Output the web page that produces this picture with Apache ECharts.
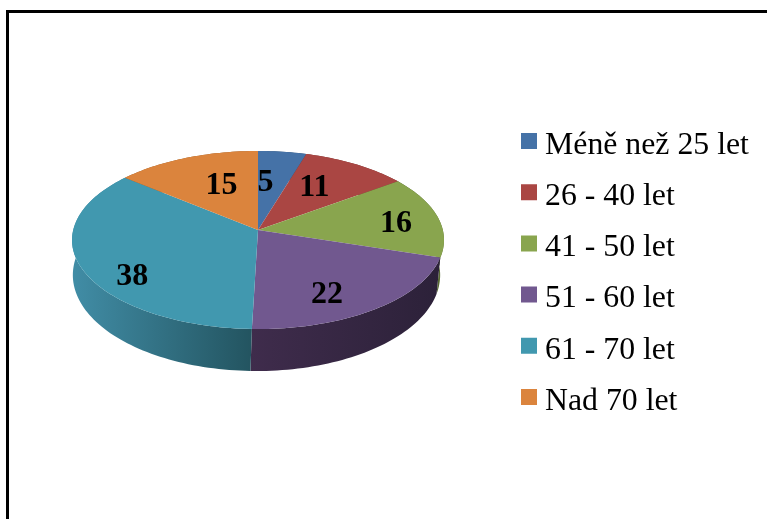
<!DOCTYPE html>
<html>
<head>
<meta charset="utf-8">
<style>
  html, body { margin: 0; padding: 0; background: #fff; overflow: hidden; }
  #chart { width: 767px; height: 519px; }
</style>
<script src="https://cdn.jsdelivr.net/npm/echarts@6/dist/echarts.min.js"></script>
</head>
<body>
<div id="chart"></div>
<script>
const categories = ['Méně než 25 let', '26 - 40 let', '41 - 50 let', '51 - 60 let', '61 - 70 let', 'Nad 70 let']
const values = [5, 11, 16, 22, 38, 15]

const colors = ['#4572a7', '#aa4643', '#89a54e', '#71588f', '#4198af', '#db843d']
// side wall shading, left to right
const wallColors = [
  ['#2e4c70', '#2e4c70'],
  ['#712f2d', '#712f2d'],
  ['#3f4c24', '#5b6e34'],
  ['#3f2c4c', '#2c2139'],
  ['#418da6', '#235460'],
  ['#925827', '#925827']
]
// nudge of each number from its slice's anchor point, pixels
const labelNudge = [[-10, 9], [-14, 5], [12, 4], [-11, 11], [-4, 20], [15, 8]]

const perspective = 0.1125
const topDisk = { x: 258, y: 230, rx: 184.8, ry: 87.9 }
const baseDisk = { x: 256.5, y: 264.2, rx: 182.5, ry: 94.8 }
const total = values.reduce((a, b) => a + b, 0)

// project a point of the pie circle, angle in degrees clockwise from 12 o'clock
function project(disk, deg, frac) {
  const a = deg * Math.PI / 180
  const near = -Math.cos(a) * frac
  const s = 1 / (1 - perspective * near)
  return [disk.x + disk.rx * Math.sin(a) * frac * s, disk.y + disk.ry * near * s]
}

function arc(disk, from, to) {
  const pts = []
  const steps = Math.max(2, Math.ceil((to - from) / 1.5))
  for (let i = 0; i <= steps; i++) {
    pts.push(project(disk, from + (to - from) * i / steps, 1))
  }
  return pts
}

const slices = []
let run = 0
values.forEach((v, i) => {
  const from = run / total * 360
  run += v
  slices.push({ i, value: v, from, to: run / total * 360 })
})

const wallSeries = {
  type: 'custom',
  name: 'walls',
  coordinateSystem: 'none',
  silent: true,
  z: 1,
  data: slices.map(s => [s.from, s.to, s.i]),
  renderItem: function (params, api) {
    const from = api.value(0)
    const to = api.value(1)
    const i = api.value(2)
    const points = arc(topDisk, from, to).concat(arc(baseDisk, from, to).reverse())
    return {
      type: 'polygon',
      shape: { points },
      style: {
        fill: new echarts.graphic.LinearGradient(0, 0, 1, 0, [
          { offset: 0, color: wallColors[i][0] },
          { offset: 1, color: wallColors[i][1] }
        ])
      }
    }
  }
}

const topSeries = slices.map(s => ({
  type: 'custom',
  name: categories[s.i],
  coordinateSystem: 'none',
  silent: true,
  z: 2,
  color: colors[s.i],
  itemStyle: { color: colors[s.i] },
  data: [[s.from, s.to]],
  renderItem: function (params, api) {
    const points = [[topDisk.x, topDisk.y]].concat(arc(topDisk, api.value(0), api.value(1)))
    return { type: 'polygon', shape: { points }, style: { fill: colors[s.i] } }
  }
}))

const labelSeries = {
  type: 'custom',
  name: 'labels',
  coordinateSystem: 'none',
  silent: true,
  z: 3,
  data: slices.map(s => [(s.from + s.to) / 2, s.value, s.i]),
  renderItem: function (params, api) {
    const i = api.value(2)
    const p = project(topDisk, api.value(0), 0.7)
    return {
      type: 'text',
      x: p[0] + labelNudge[i][0],
      y: p[1] + labelNudge[i][1],
      style: {
        text: String(api.value(1)),
        fill: '#000',
        font: 'bold 32px "Liberation Serif"',
        align: 'center',
        verticalAlign: 'middle'
      }
    }
  }
}

const myChart = echarts.init(document.getElementById('chart'), null, { renderer: 'canvas' })
myChart.setOption({
  animation: false,
  backgroundColor: '#fff',
  legend: {
    data: categories,
    orient: 'vertical',
    left: 521,
    top: 129.5,
    padding: 0,
    // square sits at the top of a taller icon box, so the text rides lower than it
    icon: 'path://M0 0H16V16H0Z M0 25L0 25Z',
    itemWidth: 16,
    itemHeight: 25,
    itemGap: 19.2,
    selectedMode: false,
    textStyle: {
      fontFamily: 'Liberation Serif',
      fontSize: 31.8,
      lineHeight: 30,
      color: '#000',
      padding: [0, 0, 0, 3]
    }
  },
  graphic: [{
    type: 'rect',
    silent: true,
    z: 0,
    shape: { x: 7.5, y: 11.5, width: 800, height: 600 },
    style: { fill: 'none', stroke: '#000', lineWidth: 3 }
  }],
  series: [wallSeries].concat(topSeries, [labelSeries])
})
</script>
</body>
</html>
